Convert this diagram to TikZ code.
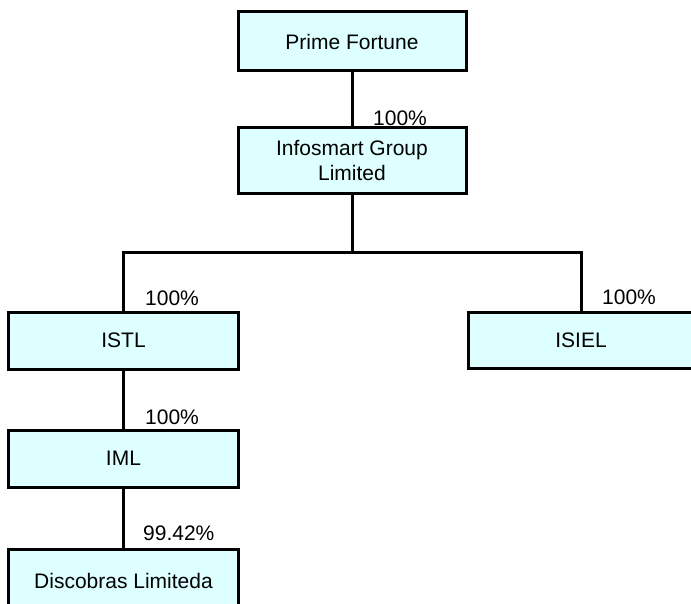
\documentclass[tikz,border=0pt]{standalone}
\usepackage{fontspec}
\setmainfont{Liberation Sans}
\definecolor{boxfill}{RGB}{221,255,255}
\begin{document}
\begin{tikzpicture}[x=1bp,y=-1bp,
  orgbox/.style={draw=black,line width=3bp,fill=boxfill,inner sep=0pt,align=center,
    font=\fontsize{21bp}{25bp}\selectfont},
  pct/.style={anchor=west,inner sep=0pt,font=\fontsize{21bp}{25bp}\selectfont},
  link/.style={line width=3bp}]
\clip (0,0) rectangle (691,604);
\fill[white] (0,0) rectangle (691,604);
\node[orgbox,minimum width=228bp,minimum height=59bp] (prime) at (352,41.5) {Prime Fortune};
\node[orgbox,minimum width=228bp,minimum height=65bp] (info) at (352,160.5) {Infosmart Group\\Limited};
\node[orgbox,minimum width=229bp,minimum height=57bp] (istl) at (123.5,340.5) {ISTL};
\node[orgbox,minimum width=226bp,minimum height=56bp] (isiel) at (581,340) {ISIEL};
\node[orgbox,minimum width=229bp,minimum height=57bp] (iml) at (123.5,458.5) {IML};
\node[orgbox,minimum width=229bp,minimum height=64bp] (disc) at (123.5,581) {Discobras Limiteda};
\coordinate (bus) at (352,252);
\draw[link] (prime.south) -- (info.north);
\draw[link] (info.south) -- (bus);
\draw[link] (istl.north) |- (bus) -| (isiel.north);
\draw[link] (istl.south) -- (iml.north);
\draw[link] (iml.south) -- (disc.north);
\node[pct] (p1) at (373,118) {100\%};
\node[pct] (p2) at (145,298) {100\%};
\node[pct] (p3) at (602,297) {100\%};
\node[pct] (p4) at (145,417) {100\%};
\node[pct] (p5) at (143,533) {99.42\%};
\end{tikzpicture}
\end{document}
